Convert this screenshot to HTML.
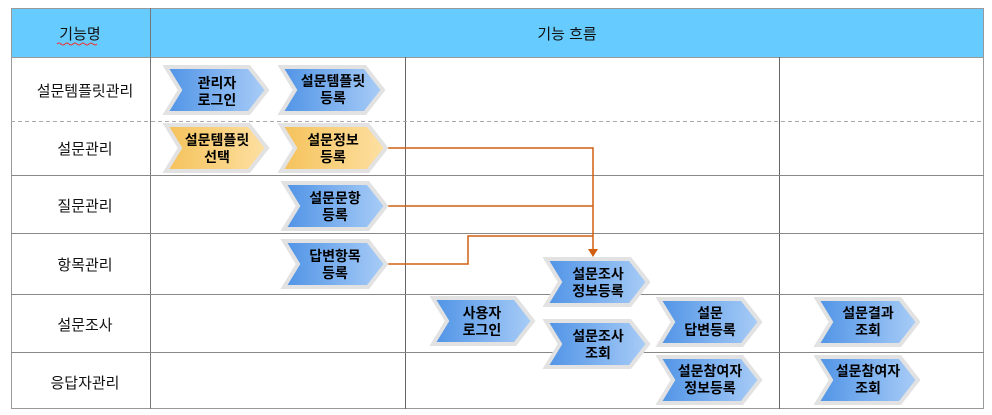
<!DOCTYPE html>
<html><head><meta charset="utf-8"><style>
html,body{margin:0;padding:0;background:#fff;width:992px;height:415px;overflow:hidden}
svg{display:block}
text{font-family:"Liberation Sans","Noto Sans CJK KR","NanumGothic",sans-serif}
.l{font-size:15px;fill:#111}
.b{font-size:14px;font-weight:bold;fill:#000}
</style></head><body>
<svg width="992" height="415" viewBox="0 0 992 415" xmlns="http://www.w3.org/2000/svg">
<defs>
<linearGradient id="gb" x1="0" x2="1" y1="0" y2="0"><stop offset="0" stop-color="#4f93e6"/><stop offset="1" stop-color="#a9cdf7"/></linearGradient>
<linearGradient id="gy" x1="0" x2="1" y1="0" y2="0"><stop offset="0" stop-color="#f5c25a"/><stop offset="1" stop-color="#fde0a2"/></linearGradient>
</defs>
<rect x="11.5" y="8.5" width="972" height="49" fill="#66ccff" stroke="#999"/>
<rect x="11.5" y="57.5" width="972" height="351" fill="#fff" stroke="#999"/>
<line x1="150.5" y1="8" x2="150.5" y2="409" stroke="#777"/>
<line x1="405.5" y1="57" x2="405.5" y2="409" stroke="#666"/>
<line x1="779.5" y1="57" x2="779.5" y2="409" stroke="#666"/>
<line x1="11" y1="121.5" x2="984" y2="121.5" stroke="#aaa" stroke-dasharray="4,3"/>
<g stroke="#888"><line x1="11" y1="175.5" x2="984" y2="175.5"/><line x1="11" y1="233.5" x2="984" y2="233.5"/><line x1="11" y1="294.5" x2="984" y2="294.5"/><line x1="11" y1="352.5" x2="984" y2="352.5"/></g>
<text x="80" y="39" class="l" text-anchor="middle">기능명</text>
<path d="M57 44 q2 -2 4 0 t4 0 t4 0 t4 0 t4 0 t4 0 t4 0 t4 0 t4 0 t4 0" stroke="#e33" fill="none" stroke-width="1"/>
<text x="567" y="39" class="l" text-anchor="middle">기능 흐름</text>
<g text-anchor="middle">
<text x="85" y="96" class="l">설문템플릿관리</text>
<text x="85" y="154" class="l">설문관리</text>
<text x="85" y="211" class="l">질문관리</text>
<text x="85" y="270" class="l">항목관리</text>
<text x="85" y="330" class="l">설문조사</text>
<text x="85" y="388" class="l">응답자관리</text>
</g>
<g stroke="#d06010" stroke-width="1.5" fill="none">
<polyline points="388,148 593,148 593,250"/>
<polyline points="388,206 593,206"/>
<polyline points="388,264 468,264 468,236 593,236"/>
</g>
<polygon points="588,249 598,249 593,257" fill="#d06010"/>
<g stroke="#e2e2e2" stroke-width="4" stroke-linejoin="miter">
<polygon points="166,67 249,67 267,90 249,113 166,113 180,90" fill="url(#gb)"/>
<polygon points="281,67 365,67 383,90 365,113 281,113 295,90" fill="url(#gb)"/>
<polygon points="166,125 249,125 267,148 249,171 166,171 180,148" fill="url(#gy)"/>
<polygon points="281,125 368,125 386,148 368,171 281,171 295,148" fill="url(#gy)"/>
<polygon points="284,183 368,183 386,206 368,229 284,229 298,206" fill="url(#gb)"/>
<polygon points="284,241 368,241 386,264 368,287 284,287 298,264" fill="url(#gb)"/>
<polygon points="546,259 630,259 648,282 630,305 546,305 560,282" fill="url(#gb)"/>
<polygon points="433,298 515,298 533,321 515,344 433,344 447,321" fill="url(#gb)"/>
<polygon points="546,321 630,321 648,344 630,367 546,367 560,344" fill="url(#gb)"/>
<polygon points="659,299 742,299 760,322 742,345 659,345 673,322" fill="url(#gb)"/>
<polygon points="817,299 900,299 918,322 900,345 817,345 831,322" fill="url(#gb)"/>
<polygon points="659,357 742,357 760,380 742,403 659,403 673,380" fill="url(#gb)"/>
<polygon points="817,357 900,357 918,380 900,403 817,403 831,380" fill="url(#gb)"/>
</g>
<g text-anchor="middle">
<text x="217" y="88" class="b">관리자</text><text x="217" y="105" class="b">로그인</text>
<text x="333" y="86" class="b">설문템플릿</text><text x="333" y="103" class="b">등록</text>
<text x="217" y="145" class="b">설문템플릿</text><text x="217" y="162" class="b">선택</text>
<text x="333" y="145" class="b">설문정보</text><text x="333" y="162" class="b">등록</text>
<text x="335" y="203" class="b">설문문항</text><text x="335" y="220" class="b">등록</text>
<text x="335" y="261" class="b">답변항목</text><text x="335" y="278" class="b">등록</text>
<text x="598" y="279" class="b">설문조사</text><text x="598" y="296" class="b">정보등록</text>
<text x="482" y="318" class="b">사용자</text><text x="482" y="335" class="b">로그인</text>
<text x="598" y="341" class="b">설문조사</text><text x="598" y="358" class="b">조회</text>
<text x="710" y="318" class="b">설문</text><text x="710" y="335" class="b">답변등록</text>
<text x="868" y="318" class="b">설문결과</text><text x="868" y="335" class="b">조회</text>
<text x="710" y="376" class="b">설문참여자</text><text x="710" y="393" class="b">정보등록</text>
<text x="868" y="376" class="b">설문참여자</text><text x="868" y="393" class="b">조회</text>
</g>
</svg>
</body></html>
